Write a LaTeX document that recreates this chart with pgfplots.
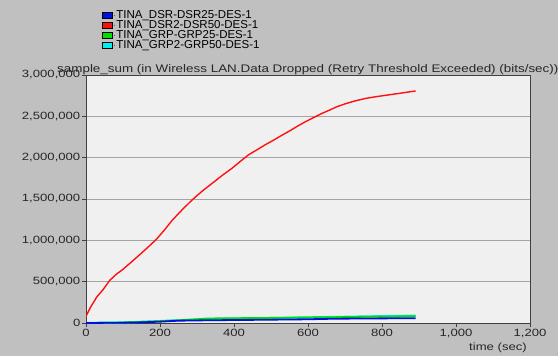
\documentclass[border=0pt]{standalone}
\usepackage{fontspec}
\setmainfont{Liberation Sans}
\usepackage{pgfplots}
\pgfplotsset{compat=1.18}
\usepackage{graphicx}
\definecolor{bg}{HTML}{C0C0C0}
\definecolor{plotbg}{HTML}{F0F0F0}
\definecolor{gridc}{HTML}{A4A4A4}
\definecolor{cblue}{HTML}{0010E0}
\definecolor{cred}{HTML}{FF1010}
\definecolor{cgreen}{HTML}{00E000}
\definecolor{ccyan}{HTML}{00F0F0}
\pgfplotsset{
  sq/.style={legend image code/.code={\draw[draw=black,fill=#1,line width=0.8bp] (0bp,-3.3bp) rectangle (9.5bp,3.3bp); \path (12bp,0) circle (0.1bp);}}
}
\begin{document}
\begin{tikzpicture}[x=1bp,y=1bp]
\fill[bg] (0,0) rectangle (558,356);
\useasboundingbox (0,0) rectangle (558,356);
\begin{axis}[
  at={(86bp,33bp)}, anchor=south west,
  scale only axis, width=444bp, height=248bp,
  xmin=0, xmax=1200, ymin=0, ymax=3000000,
  xtick={0,200,...,1200},
  ytick={0,500000,...,3000000},
  scaled ticks=false,
  /pgf/number format/.cd, fixed, precision=0, 1000 sep={,}, assume math mode=true,
  /pgfplots/.cd,
  xticklabel={\scalebox{1.25}[1]{\pgfmathprintnumber{\tick}}},
  yticklabel={\scalebox{1.25}[1]{\pgfmathprintnumber{\tick}}},
  tick label style={font=\fontsize{10.5bp}{12bp}\selectfont, text=black!85, inner sep=1.5bp},
  axis background/.style={fill=plotbg},
  axis line style={draw=black!75, line width=1bp},
  tick align=outside, major tick length=4bp,
  tick style={draw=black!75, line width=0.8bp},
  xtick pos=bottom, ytick pos=left,
  ymajorgrids, grid style={draw=gridc, line width=0.9bp},
  legend style={at={(0.036,1.262)}, anchor=north west, draw=none, fill=none,
    font=\fontsize{11.5bp}{12bp}\selectfont, inner sep=0pt,
    nodes={text height=7.5bp, text depth=1.5bp, inner ysep=0.5bp, inner xsep=1.5bp}},
  legend cell align=left,
]
\addlegendimage{sq=cblue}
\addlegendentry{TINA\_DSR-DSR25-DES-1}
\addlegendimage{sq=cred}
\addlegendentry{TINA\_DSR2-DSR50-DES-1}
\addlegendimage{sq=cgreen}
\addlegendentry{TINA\_GRP-GRP25-DES-1}
\addlegendimage{sq=ccyan}
\addlegendentry{TINA\_GRP2-GRP50-DES-1}

\addplot[forget plot, ccyan, line width=1.8bp] coordinates {
(0,2000) (100,8000) (200,25000) (300,45000) (400,55000) (500,62000) (600,70000) (700,77000) (800,85000) (891,91000)};
\addplot[forget plot, cgreen, line width=1.8bp] coordinates {
(0,0) (100,5000) (200,22000) (280,40000) (330,55000) (500,62000) (700,72000) (891,83000)};
\addplot[forget plot, cblue, line width=1.8bp] coordinates {
(0,0) (100,4000) (150,8000) (200,16000) (250,28000) (330,33000) (450,38000) (600,45000) (670,52000) (800,56000) (891,58000)};
\addplot[forget plot, cred, line width=1.4bp] coordinates {
(0,80000) (11,181000) (29,314000) (46,403000) (64,515000) (82,590000) (100,650000) (122,735000) (145,826000) (167,915000) (189,1007000) (212,1125000) (234,1248000) (260,1370000) (287,1490000) (314,1595000) (341,1690000) (368,1785000) (395,1873000) (417,1955000) (439,2034000) (462,2095000) (484,2155000) (507,2212000) (529,2270000) (551,2325000) (573,2385000) (593,2435000) (613,2480000) (635,2530000) (658,2575000) (680,2620000) (703,2655000) (730,2690000) (757,2718000) (784,2738000) (811,2755000) (850,2780000) (891,2807000)};
\end{axis}
\node[anchor=base west, inner sep=0pt, font=\fontsize{11bp}{12bp}\selectfont, text=black!85] at (57,284)
  {\scalebox{1.22}[1]{sample\_sum (in Wireless LAN.Data Dropped (Retry Threshold Exceeded) (bits/sec))}};
\node[anchor=base east, inner sep=0pt, font=\fontsize{10.5bp}{12bp}\selectfont, text=black!85] at (527,6)
  {\scalebox{1.25}[1]{time (sec)}};
\end{tikzpicture}
\end{document}
